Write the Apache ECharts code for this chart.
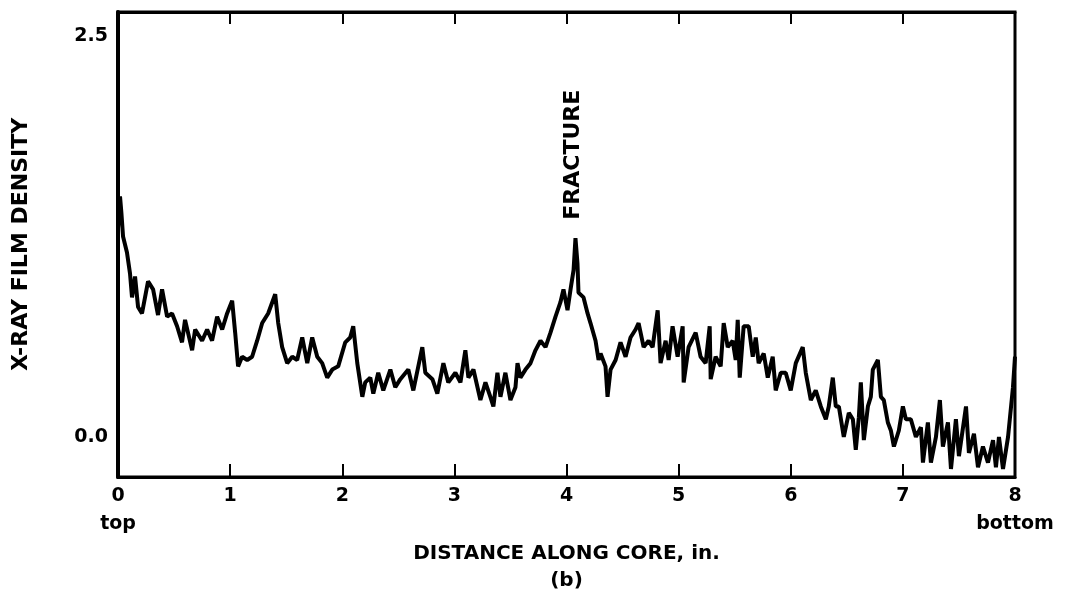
<!DOCTYPE html>
<html>
<head>
<meta charset="utf-8">
<script src="https://cdn.jsdelivr.net/npm/echarts@6/dist/echarts.min.js"></script>
<style>
html,body{margin:0;padding:0;background:#fff;}
#main{width:1068px;height:598px;}
</style>
</head>
<body>
<div id="main"></div>
<script>
// distance along core (in.) and film density
var dist = [0.000,0.018,0.030,0.045,0.080,0.107,0.125,0.152,0.179,0.214,0.268,0.313,0.357,0.393,0.438,0.482,0.527,0.571,0.598,0.661,0.688,0.750,0.795,0.839,0.884,0.929,0.973,1.018,1.045,1.071,1.107,1.152,1.196,1.241,1.286,1.339,1.402,1.429,1.464,1.509,1.554,1.598,1.643,1.688,1.732,1.777,1.821,1.866,1.911,1.964,2.027,2.071,2.098,
	2.134,2.179,2.205,2.250,2.277,2.321,2.366,2.429,2.473,2.518,2.589,2.634,2.714,2.741,2.804,2.848,2.902,2.946,3.009,3.054,3.098,3.125,3.170,3.232,3.277,3.321,3.348,3.384,3.411,3.455,3.500,3.545,3.563,3.589,3.634,3.679,3.723,3.768,3.813,3.857,3.902,3.946,3.973,4.009,4.036,4.063,4.080,4.098,4.107,4.152,4.188,4.214,4.259,4.286,
	4.304,4.348,4.366,4.393,4.438,4.482,4.527,4.571,4.616,4.643,4.688,4.732,4.768,4.813,4.839,4.884,4.911,4.946,4.991,5.036,5.045,5.089,5.152,5.196,5.241,5.277,5.286,5.330,5.375,5.402,5.438,5.482,5.509,5.527,5.545,5.580,5.625,5.661,5.688,5.714,5.759,5.795,5.839,5.866,5.911,5.955,6.000,6.045,6.107,6.134,6.179,6.223,6.268,6.313,6.339,6.375,6.402,
	6.429,6.473,6.518,6.554,6.580,6.607,6.625,6.652,6.688,6.714,6.732,6.777,6.804,6.830,6.866,6.893,6.920,6.964,7.000,7.027,7.071,7.116,7.161,7.179,7.223,7.250,7.295,7.330,7.357,7.402,7.429,7.473,7.500,7.563,7.589,7.634,7.670,7.714,7.759,7.804,7.830,7.857,7.893,7.938,7.982,8.000];
var density = [1.30,1.50,1.40,1.25,1.15,1.02,0.87,1.00,0.81,0.77,0.97,0.92,0.76,0.92,0.75,0.77,0.69,0.59,0.73,0.54,0.67,0.60,0.67,0.60,0.75,0.67,0.77,0.85,0.65,0.44,0.50,0.48,0.50,0.60,0.71,0.77,0.89,0.71,0.56,0.46,0.50,0.48,0.62,0.46,0.62,0.50,0.46,0.37,0.42,0.44,0.59,0.62,0.69,
	0.46,0.25,0.34,0.37,0.27,0.40,0.29,0.42,0.31,0.36,0.42,0.29,0.56,0.40,0.36,0.27,0.46,0.34,0.40,0.34,0.54,0.37,0.42,0.23,0.34,0.25,0.19,0.40,0.25,0.40,0.23,0.31,0.46,0.37,0.42,0.46,0.54,0.60,0.56,0.65,0.75,0.84,0.92,0.79,0.92,1.04,1.24,1.08,0.90,0.87,0.77,0.71,0.60,0.48,
	0.52,0.44,0.25,0.42,0.48,0.59,0.50,0.62,0.67,0.71,0.56,0.60,0.56,0.79,0.46,0.60,0.48,0.69,0.50,0.69,0.34,0.56,0.65,0.50,0.46,0.69,0.36,0.50,0.44,0.71,0.56,0.60,0.48,0.73,0.37,0.69,0.69,0.50,0.62,0.46,0.52,0.37,0.50,0.29,0.40,0.40,0.29,0.46,0.56,0.40,0.23,0.29,0.19,0.11,0.19,0.37,0.19,
	0.19,0.00,0.15,0.11,-0.08,0.12,0.34,-0.02,0.19,0.25,0.42,0.48,0.25,0.23,0.09,0.04,-0.06,0.04,0.19,0.11,0.11,0.00,0.06,-0.16,0.09,-0.16,0.00,0.23,-0.06,0.09,-0.20,0.11,-0.12,0.19,-0.10,0.02,-0.19,-0.06,-0.16,-0.02,-0.19,0.00,-0.20,0.00,0.31,0.50];
var xTicks = [0,1,2,3,4,5,6,7,8];
var yLabels = [0.0, 2.5];
var xEnds = {0:'top', 8:'bottom'};

var chart = echarts.init(document.getElementById('main'));
var font = '"DejaVu Sans", "Liberation Sans", sans-serif';

var points = [];
for (var i = 0; i < dist.length; i++) {
	points.push([dist[i], density[i]]);
}

chart.setOption({
	animation: false,
	backgroundColor: '#fff',
	grid: {left: 118, right: 53, top: 12, bottom: 121, containLabel: false, outerBoundsMode: 'none',
		show: true, borderColor: '#000', borderWidth: 3},
	xAxis: [{
		type: 'value', min: 0, max: 8, interval: 1, position: 'bottom',
		axisLine: {show: true, onZero: false, lineStyle: {color: '#000', width: 3}},
		axisTick: {show: true, inside: true, length: 13, lineStyle: {color: '#000', width: 2}},
		splitLine: {show: false},
		axisLabel: {
			margin: 5, color: '#000', fontFamily: font, fontWeight: 'bold', fontSize: 19, lineHeight: 28,
			formatter: function(v){ return xEnds[v] ? v + '\n' + xEnds[v] : (xTicks.indexOf(v) >= 0 ? '' + v : ''); }
		},
		name: 'DISTANCE ALONG CORE, in.\n(b)', nameLocation: 'middle', nameGap: 63, nameMoveOverlap: false,
		nameTextStyle: {color: '#000', fontFamily: font, fontWeight: 'bold', fontSize: 20, lineHeight: 27}
	}, {
		type: 'value', min: 0, max: 8, interval: 1, position: 'top',
		axisLine: {show: true, onZero: false, lineStyle: {color: '#000', width: 3}},
		axisTick: {show: true, inside: true, length: 12, lineStyle: {color: '#000', width: 2}},
		axisLabel: {show: false}, splitLine: {show: false}
	}],
	yAxis: {
		type: 'value', min: -0.25, max: 2.65, interval: 0.25,
		axisLine: {show: true, onZero: false, lineStyle: {color: '#000', width: 4}},
		axisTick: {show: false},
		splitLine: {show: false},
		axisLabel: {
			margin: 10, color: '#000', fontFamily: font, fontWeight: 'bold', fontSize: 19,
			formatter: function(v){
				for (var k = 0; k < yLabels.length; k++) {
					if (Math.abs(v - yLabels[k]) < 1e-6) return yLabels[k].toFixed(1);
				}
				return '';
			}
		},
		name: 'X-RAY FILM DENSITY', nameLocation: 'middle', nameGap: 86, nameRotate: 90,
		nameTextStyle: {color: '#000', fontFamily: font, fontWeight: 'bold', fontSize: 22}
	},
	series: [{
		type: 'line', data: points, showSymbol: false, symbol: 'none',
		lineStyle: {color: '#000', width: 4}, z: 3
	}]
});

// FRACTURE label above the peak
var p = chart.convertToPixel({xAxisIndex: 0, yAxisIndex: 0}, [4.06, 1.76]);
chart.setOption({
	graphic: [{
		type: 'text', x: p[0], y: p[1], rotation: Math.PI / 2,
		style: {text: 'FRACTURE', fill: '#000', font: 'bold 22px ' + font, align: 'center', verticalAlign: 'middle'}
	}]
});
</script>
</body>
</html>
